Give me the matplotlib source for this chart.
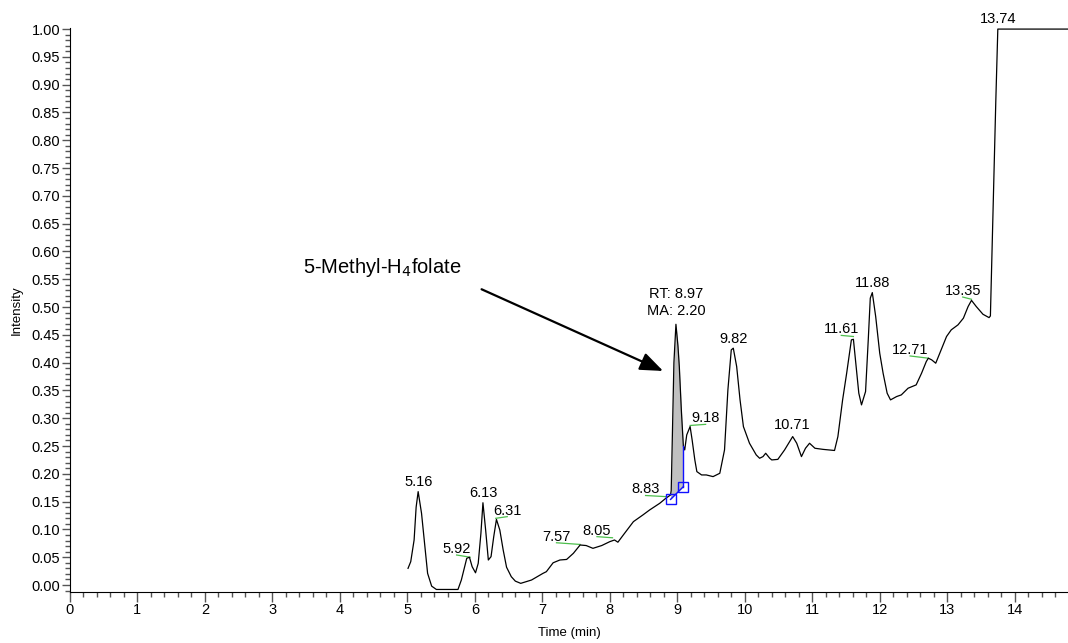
import matplotlib
matplotlib.use("Agg")
import matplotlib.pyplot as plt
from matplotlib.ticker import MultipleLocator, FormatStrFormatter
import numpy as np

plt.rcParams['font.family'] = ['Liberation Sans', 'DejaVu Sans']

# chromatogram trace (time in min, relative intensity)
rt = [5.01, 5.05, 5.10, 5.13, 5.16, 5.21, 5.26, 5.30, 5.36, 5.43, 5.75, 5.80,
      5.88, 5.92, 5.96, 6.01, 6.05, 6.09, 6.12, 6.16, 6.20, 6.24, 6.28, 6.32,
      6.37, 6.42, 6.47, 6.54, 6.60, 6.68, 6.84, 7.01, 7.06, 7.16, 7.26, 7.36,
      7.46, 7.56, 7.65, 7.75, 7.88, 8.00, 8.07, 8.12, 8.20, 8.35, 8.49, 8.59,
      8.74, 8.83, 8.90, 8.91, 8.95, 8.98, 9.01, 9.03, 9.06, 9.09, 9.11, 9.14,
      9.19, 9.22, 9.26, 9.29, 9.36, 9.43, 9.53, 9.63, 9.70, 9.75, 9.80, 9.83,
      9.88, 9.93, 9.98, 10.07, 10.17, 10.22, 10.27, 10.31, 10.37, 10.40, 10.49,
      10.59, 10.71, 10.77, 10.84, 10.90, 10.96, 11.04, 11.16, 11.33, 11.38,
      11.45, 11.51, 11.56, 11.58, 11.61, 11.65, 11.69, 11.73, 11.79, 11.83,
      11.86, 11.89, 11.94, 12.00, 12.05, 12.11, 12.16, 12.25, 12.32, 12.42,
      12.54, 12.62, 12.69, 12.72, 12.77, 12.83, 12.89, 12.99, 13.06, 13.16,
      13.24, 13.31, 13.36, 13.43, 13.53, 13.62, 13.64, 13.72, 13.75, 14.79]
intensity = [0.030, 0.042, 0.081, 0.140, 0.168, 0.129, 0.069, 0.021, -0.002,
             -0.008, -0.008, 0.009, 0.048, 0.050, 0.033, 0.022, 0.039, 0.093,
             0.148, 0.099, 0.045, 0.051, 0.087, 0.118, 0.099, 0.063, 0.032,
             0.015, 0.007, 0.003, 0.009, 0.021, 0.024, 0.040, 0.045, 0.046,
             0.057, 0.072, 0.071, 0.066, 0.071, 0.078, 0.081, 0.077, 0.090,
             0.114, 0.126, 0.135, 0.147, 0.156, 0.162, 0.170, 0.400, 0.469,
             0.430, 0.393, 0.315, 0.250, 0.243, 0.270, 0.285, 0.261, 0.225,
             0.204, 0.198, 0.198, 0.195, 0.201, 0.243, 0.351, 0.423, 0.426,
             0.393, 0.333, 0.285, 0.255, 0.234, 0.228, 0.231, 0.237, 0.228,
             0.225, 0.226, 0.243, 0.267, 0.255, 0.231, 0.246, 0.255, 0.246,
             0.244, 0.242, 0.267, 0.333, 0.381, 0.423, 0.441, 0.442, 0.393,
             0.345, 0.324, 0.348, 0.441, 0.516, 0.526, 0.483, 0.417, 0.381,
             0.345, 0.333, 0.339, 0.342, 0.354, 0.360, 0.381, 0.402, 0.408,
             0.405, 0.399, 0.417, 0.447, 0.459, 0.468, 0.480, 0.501, 0.512,
             0.501, 0.487, 0.481, 0.484, 0.870, 1.000, 1.000]

# peak labels: text, label centre, and the peak it points to (None = no leader)
peak_text = ['5.16', '5.92', '6.13', '6.31', '7.57', '8.05', '8.83', '9.18',
             '9.82', '10.71', '11.61', '11.88', '12.71', '13.35', '13.74']
label_x = [5.16, 5.73, 6.12, 6.48, 7.21, 7.81, 8.53, 9.42,
           9.83, 10.71, 11.43, 11.90, 12.45, 13.23, 13.76]
label_y = [0.185, 0.065, 0.166, 0.134, 0.087, 0.098, 0.172, 0.300,
           0.442, 0.287, 0.460, 0.544, 0.423, 0.529, 1.019]
leader_x = [None, 5.93, None, 6.31, 7.56, 8.04, 8.83, 9.19,
            None, None, 11.61, None, 12.72, 13.36, None]
leader_y = [None, 0.050, None, 0.120, 0.073, 0.085, 0.159, 0.287,
            None, None, 0.447, None, 0.408, 0.514, None]

# integrated peak (5-methyl-H4folate)
base_t = [8.90, 9.09]
base_i = [0.154, 0.177]

fig = plt.figure(figsize=(10.68, 6.43), dpi=100)
ax = fig.add_axes([0.0655, 0.0798, 0.9345, 0.8767])

rt_a = np.array(rt)
in_a = np.array(intensity)

# grey area of the integrated peak
sel = (rt_a > base_t[0]) & (rt_a < base_t[1])
ft = np.concatenate([[base_t[0]], rt_a[sel], [base_t[1]]])
fi = np.interp(ft, rt_a, in_a)
fb = np.interp(ft, base_t, base_i)
ax.fill_between(ft, fb, fi, color='#c0c0c0', lw=0, zorder=1)

ax.plot(rt, intensity, color='black', lw=0.9, zorder=3)

# baseline and markers
ax.plot(base_t, base_i, color='#1010ff', lw=1.0, zorder=4)
ax.plot([base_t[1], base_t[1]], [base_i[1], np.interp(base_t[1], rt_a, in_a)],
        color='#1010ff', lw=1.0, zorder=4)
ax.plot(base_t, base_i, ls='none', marker='s', ms=7, mfc='none',
        mec='#1010ff', mew=1.0, zorder=5)

for txt, lx, ly, px, py in zip(peak_text, label_x, label_y, leader_x, leader_y):
    ax.text(lx, ly, txt, ha='center', va='center', fontsize=10.5, zorder=6)
    if px is not None:
        ax.plot([lx, px], [ly - 0.011, py], color='#4cbf4c', lw=0.9, zorder=2)

ax.text(8.98, 0.523, 'RT: 8.97', ha='center', va='center', fontsize=10.5)
ax.text(8.98, 0.492, 'MA: 2.20', ha='center', va='center', fontsize=10.5)

ax.text(3.45, 0.572, '5-Methyl-H$_4$folate', ha='left', va='center', fontsize=14.5)
ax.annotate('', xy=(8.79, 0.385), xytext=(6.10, 0.532),
            arrowprops=dict(arrowstyle='-|>,head_length=1.4,head_width=0.55',
                            color='black', lw=1.6, shrinkA=0, shrinkB=0))

ax.set_xlim(0, 14.79)
ax.set_ylim(-0.012, 1.002)
ax.xaxis.set_major_locator(MultipleLocator(1))
ax.xaxis.set_minor_locator(MultipleLocator(0.2))
ax.yaxis.set_major_locator(MultipleLocator(0.05))
ax.yaxis.set_minor_locator(MultipleLocator(0.01))
ax.yaxis.set_major_formatter(FormatStrFormatter('%.2f'))
ax.spines['top'].set_visible(False)
ax.spines['right'].set_visible(False)
ax.tick_params(axis='both', which='both', direction='out', color='#555555',
               labelsize=10.5, pad=1.5)
ax.tick_params(axis='x', which='major', length=7, width=1.0)
ax.tick_params(axis='x', which='minor', length=3.6, width=1.0)
ax.tick_params(axis='y', which='major', length=5.5, width=1.0)
ax.tick_params(axis='y', which='minor', length=3.5, width=1.0)
ax.set_xlabel('Time (min)', fontsize=9.5, labelpad=7)
ax.set_ylabel('Intensity', fontsize=9.5, labelpad=6)

fig.savefig('out.png', dpi=100)
